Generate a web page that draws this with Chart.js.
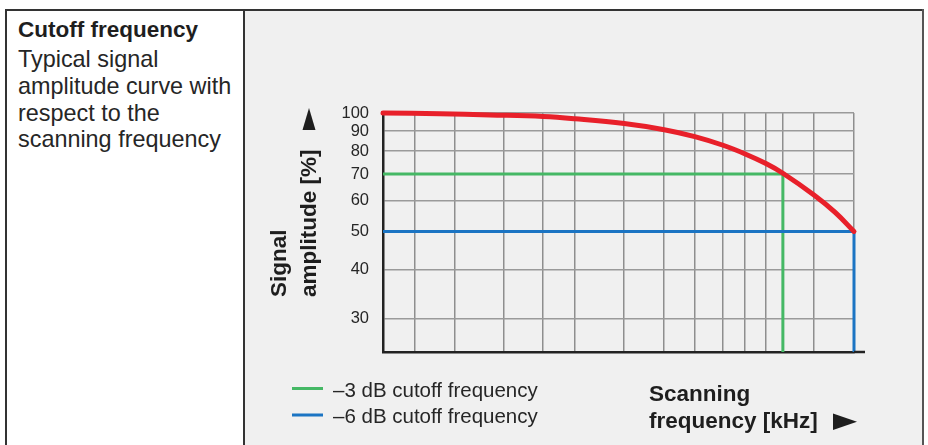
<!DOCTYPE html>
<html>
<head>
<meta charset="utf-8">
<script src="https://cdn.jsdelivr.net/npm/chart.js@4/dist/chart.umd.min.js"></script>
<style>
  html, body { margin: 0; padding: 0; background: #fff; }
  body { width: 928px; height: 445px; position: relative; overflow: hidden; font-family: "Liberation Sans", Arial, sans-serif; color: #1e1e1e; }
  .rule { position: absolute; background: #333; }
  #note { position: absolute; left: 18px; top: 16px; }
  #note b { display: block; font-size: 22.5px; line-height: 27px; margin-bottom: 3px; }
  #note p { margin: 0; font-size: 23.4px; line-height: 26.8px; color: #262626; }
  #cell { position: absolute; left: 245px; top: 11px; width: 677px; height: 434px; background: #f0f0f0; }
  #chart { display: block; }
</style>
</head>
<body>
<div class="rule" style="left:5px;top:9px;width:919px;height:2px;"></div>
<div class="rule" style="left:5px;top:9px;width:1.5px;height:436px;"></div>
<div class="rule" style="left:243px;top:9px;width:2px;height:436px;"></div>
<div class="rule" style="left:922px;top:9px;width:2px;height:436px;background:#555;"></div>
<div id="note">
  <b>Cutoff frequency</b>
  <p>Typical signal<br>amplitude curve with<br>respect to the<br>scanning frequency</p>
</div>
<div id="cell"><canvas id="chart" width="677" height="434"></canvas></div>

<script>
// Amplitude axis (log scale), in %
const ampTicks = [30, 40, 50, 60, 70, 80, 90, 100];
const ampMin = 24.7;
const ampMax = 100;

// Frequency axis has no numbers, only grid lines (0..100 = left..right of the plot)
const freqGrid = [0, 6.8, 15.3, 25.7, 34.0, 40.8, 51.2, 59.7, 66.2, 72.2, 76.9, 81.3, 84.9, 91.5, 100];

// Signal amplitude curve
const curveFreq = [0, 12.1, 22.7, 34.0, 40.8, 51.2, 59.7, 66.2, 72.2, 76.9, 81.3, 84.9, 91.5, 96.0, 100];
const curveAmp = [100, 99.6, 98.9, 98.0, 96.7, 94.0, 90.7, 87.1, 82.8, 78.7, 74.4, 70.3, 61.9, 55.9, 50];

// Cutoff markers
const cut3Freq = 84.9, cut3Amp = 70;
const cut6Freq = 100, cut6Amp = 50;

const legendLabels = ['–3 dB cutoff frequency', '–6 dB cutoff frequency'];
const yTitle = ['Signal', 'amplitude [%]'];
const xTitle = ['Scanning', 'frequency [kHz]'];

const FONT = '"Liberation Sans", Arial, sans-serif';
const RED = '#e8202a';
const GREEN = '#45b865';
const BLUE = '#1b74c3';
const INK = '#1e1e1e';

function cutoffLine(freq, amp) {
  return [{ x: 0, y: amp }, { x: freq, y: amp }, { x: freq, y: ampMin }];
}

const extras = {
  id: 'extras',
  afterDraw(chart) {
    const ctx = chart.ctx;
    const area = chart.chartArea;
    ctx.save();

    // bottom axis runs a bit past the plot
    ctx.strokeStyle = '#222';
    ctx.lineWidth = 2.5;
    ctx.beginPath();
    ctx.moveTo(area.right, area.bottom);
    ctx.lineTo(area.right + 11, area.bottom);
    ctx.stroke();

    // legend
    const colors = [GREEN, BLUE];
    const rows = [377.5, 404];
    const bases = [386, 412];
    ctx.lineWidth = 3;
    ctx.font = '20.5px ' + FONT;
    ctx.fillStyle = '#262626';
    ctx.textAlign = 'left';
    ctx.textBaseline = 'alphabetic';
    legendLabels.forEach((label, i) => {
      ctx.strokeStyle = colors[i];
      ctx.beginPath();
      ctx.moveTo(47, rows[i]);
      ctx.lineTo(78, rows[i]);
      ctx.stroke();
      ctx.fillText(label, 88, bases[i]);
    });

    // x title + arrow
    ctx.fillStyle = INK;
    ctx.font = 'bold 22.5px ' + FONT;
    ctx.fillText(xTitle[0], 404, 390);
    ctx.fillText(xTitle[1], 404, 417);
    ctx.beginPath();
    ctx.moveTo(588, 402.5);
    ctx.lineTo(612, 410.7);
    ctx.lineTo(588, 419);
    ctx.closePath();
    ctx.fill();

    // y title + arrow
    [41, 71].forEach((x, i) => {
      ctx.save();
      ctx.translate(x, 286);
      ctx.rotate(-Math.PI / 2);
      ctx.fillText(yTitle[i], 0, 0);
      ctx.restore();
    });
    ctx.beginPath();
    ctx.moveTo(64, 97);
    ctx.lineTo(70.5, 119);
    ctx.lineTo(57.5, 119);
    ctx.closePath();
    ctx.fill();

    ctx.restore();
  }
};

new Chart(document.getElementById('chart'), {
  type: 'line',
  data: {
    datasets: [
      {
        data: curveFreq.map((x, i) => ({ x, y: curveAmp[i] })),
        borderColor: RED,
        borderWidth: 5,
        pointRadius: 0,
        tension: 0.4,
        borderCapStyle: 'round',
        borderJoinStyle: 'round',
        clip: false
      },
      {
        data: cutoffLine(cut6Freq, cut6Amp),
        borderColor: BLUE,
        borderWidth: 3,
        pointRadius: 0,
        tension: 0,
        clip: false
      },
      {
        data: cutoffLine(cut3Freq, cut3Amp),
        borderColor: GREEN,
        borderWidth: 3,
        pointRadius: 0,
        tension: 0,
        clip: false
      }
    ]
  },
  options: {
    responsive: false,
    animation: false,
    devicePixelRatio: 1,
    layout: { padding: { top: 102, right: 68, left: 0, bottom: 0 } },
    plugins: { legend: { display: false }, tooltip: { enabled: false } },
    scales: {
      x: {
        type: 'linear',
        min: 0,
        max: 100,
        afterBuildTicks: s => { s.ticks = freqGrid.map(v => ({ value: v })); },
        afterFit: s => { s.height = 93; },
        ticks: { display: false },
        grid: { color: '#8e8e8e', lineWidth: 1.5, drawTicks: false },
        border: { color: '#222', width: 2.5 }
      },
      y: {
        type: 'logarithmic',
        min: ampMin,
        max: ampMax,
        afterBuildTicks: s => { s.ticks = ampTicks.map(v => ({ value: v })); },
        afterFit: s => { s.width = 138; },
        ticks: {
          callback: v => String(v),
          color: '#262626',
          font: { family: FONT, size: 16.5 },
          padding: 14
        },
        grid: { color: '#9a9a9a', lineWidth: 1.5, drawTicks: false },
        border: { color: '#222', width: 2.5 }
      }
    }
  },
  plugins: [extras]
});
</script>
</body>
</html>
